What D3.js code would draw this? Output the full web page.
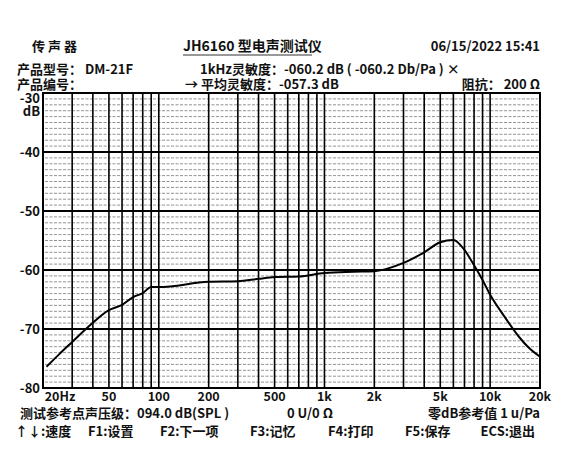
<!DOCTYPE html>
<html>
<head>
<meta charset="utf-8">
<script src="https://cdn.jsdelivr.net/npm/d3@7"></script>
<style>
  body { margin: 0; background: #fff; }
  text { font-family: "Noto Sans CJK SC", "Noto Sans", sans-serif; font-weight: bold; fill: #111; }
</style>
</head>
<body>
<svg id="chart" width="570" height="471"></svg>
<script>
// response curve read from the print
const freqs = [21, 25, 30, 38, 50, 60, 70, 80, 90, 100, 200, 300, 400, 500, 700, 1000, 1500, 2000, 3000, 4000, 5000, 6000, 7000, 8000, 9000, 10000, 12000, 15000, 17000, 20000];
const levels = [-76.4, -74.3, -72.2, -69.5, -66.8, -65.9, -64.6, -63.9, -62.9, -62.9, -62.0, -61.9, -61.5, -61.2, -61.1, -60.5, -60.3, -60.2, -58.8, -57.0, -55.3, -54.9, -56.6, -59.2, -61.7, -64.2, -67.6, -71.4, -73.1, -74.7];
const freqTicks = [20, 50, 100, 200, 500, 1000, 2000, 5000, 10000, 20000];
const freqTickLabels = ["20Hz", "50", "100", "200", "500", "1k", "2k", "5k", "10k", "20k"];
const dbTicks = [-30, -40, -50, -60, -70, -80];

const svg = d3.select("#chart");
const x = d3.scaleLog().domain([20, 20000]).range([43, 540]);
const y = d3.scaleLinear().domain([-30, -80]).range([93, 388]);

// minor horizontal lines every 1 dB
const g = svg.append("g");
g.selectAll(".minor").data(d3.range(-31, -80, -1).filter(d => d % 10 !== 0)).enter()
  .append("line")
  .attr("x1", 45).attr("x2", 538)
  .attr("y1", d => y(d)).attr("y2", d => y(d))
  .attr("stroke", "#777").attr("stroke-width", 0.8).attr("stroke-dasharray", "3,1.5");

// vertical log grid
const vlines = [];
[10, 100, 1000, 10000].forEach(dec => {
  for (let k = 1; k < 10; k++) { const f = dec * k; if (f > 20 && f < 20000) vlines.push(f); }
});
g.selectAll(".v").data(vlines).enter().append("line")
  .attr("x1", d => x(d)).attr("x2", d => x(d))
  .attr("y1", y(-30)).attr("y2", y(-80))
  .attr("stroke", "#000").attr("stroke-width", 1.6);

// major horizontal lines
g.selectAll(".major").data(dbTicks).enter().append("line")
  .attr("x1", x(20)).attr("x2", x(20000))
  .attr("y1", d => y(d)).attr("y2", d => y(d))
  .attr("stroke", "#000").attr("stroke-width", 1.8);

g.append("rect").attr("x", x(20)).attr("y", y(-30))
  .attr("width", x(20000) - x(20)).attr("height", y(-80) - y(-30))
  .attr("fill", "none").attr("stroke", "#000").attr("stroke-width", 2);

// curve
const line = d3.line().x((d, i) => x(freqs[i])).y(d => y(d)).curve(d3.curveMonotoneX);
svg.append("path").datum(levels).attr("d", line)
  .attr("fill", "none").attr("stroke", "#000").attr("stroke-width", 2);

// axis labels
svg.selectAll(".yl").data(dbTicks).enter().append("text")
  .attr("x", 40).attr("y", d => y(d) + (d === -30 ? 10 : 5)).attr("text-anchor", "end")
  .attr("font-size", 13).text(d => d);
svg.append("text").attr("x", 40).attr("y", 116).attr("text-anchor", "end").attr("font-size", 13).text("dB");

svg.selectAll(".xl").data(freqTicks).enter().append("text")
  .attr("x", (d, i) => i === 0 ? 60 : x(d)).attr("y", 401).attr("text-anchor", "middle")
  .attr("font-size", 12.5).text((d, i) => freqTickLabels[i]);

// header & footer text
const t = (tx, ty, s, anchor, size) => svg.append("text").attr("x", tx).attr("y", ty)
  .attr("text-anchor", anchor || "start").attr("font-size", size || 13).text(s);
t(32, 51, "传 声 器");
t(183, 51, "JH6160 型电声测试仪", "start", 14);
svg.append("line").attr("x1", 183).attr("x2", 312).attr("y1", 55).attr("y2", 55).attr("stroke", "#333").attr("stroke-width", 1);
t(540, 51, "06/15/2022  15:41", "end");
t(17, 74, "产品型号： DM-21F");
t(200, 74, "1kHz灵敏度：-060.2 dB ( -060.2 Db/Pa ) ×");
t(17, 89, "产品编号：");
t(185, 89, "→ 平均灵敏度：-057.3 dB");
t(540, 89, "阻抗： 200 Ω", "end");
t(20, 418, "测试参考点声压级：094.0 dB(SPL )");
t(310, 418, "0 U/0 Ω", "middle");
t(540, 418, "零dB参考值 1 u/Pa", "end");
t(15, 436, "↑↓:速度");
t(88, 436, "F1:设置");
t(160, 436, "F2:下一项");
t(250, 436, "F3:记忆");
t(328, 436, "F4:打印");
t(405, 436, "F5:保存");
t(535, 436, "ECS:退出", "end");
</script>
</body>
</html>
